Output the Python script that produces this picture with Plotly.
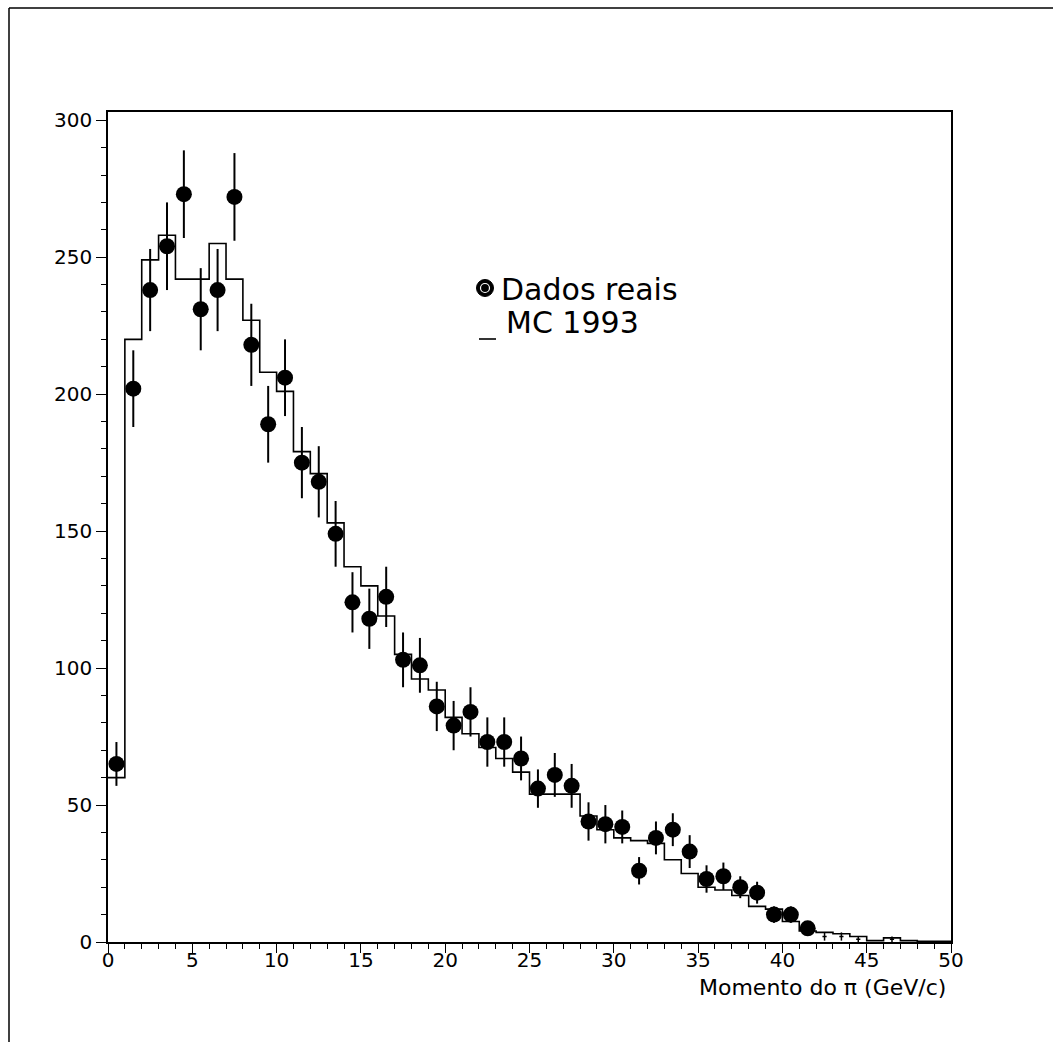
import plotly.graph_objects as go

# Measured pion momentum spectrum (1 GeV/c bins) with statistical errors
data_p = [0.5, 1.5, 2.5, 3.5, 4.5, 5.5, 6.5, 7.5, 8.5, 9.5,
          10.5, 11.5, 12.5, 13.5, 14.5, 15.5, 16.5, 17.5, 18.5, 19.5,
          20.5, 21.5, 22.5, 23.5, 24.5, 25.5, 26.5, 27.5, 28.5, 29.5,
          30.5, 31.5, 32.5, 33.5, 34.5, 35.5, 36.5, 37.5, 38.5, 39.5,
          40.5, 41.5]
data_n = [65, 202, 238, 254, 273, 231, 238, 272, 218, 189,
          206, 175, 168, 149, 124, 118, 126, 103, 101, 86,
          79, 84, 73, 73, 67, 56, 61, 57, 44, 43,
          42, 26, 38, 41, 33, 23, 24, 20, 18, 10,
          10, 5]
data_err = [8, 14, 15, 16, 16, 15, 15, 16, 15, 14,
            14, 13, 13, 12, 11, 11, 11, 10, 10, 9,
            9, 9, 9, 9, 8, 7, 8, 8, 7, 7,
            6, 5, 6, 6, 6, 5, 5, 4, 4, 3,
            3, 2]

# Tail bins with very few entries (error bars only)
tail_p = [42.5, 43.5, 44.5, 46.5]
tail_n = [2, 2, 1, 1]
tail_err = [1.5, 1.5, 1, 1]

# Monte Carlo 1993 prediction, one value per 1 GeV/c bin from 0 to 50
mc_edges = list(range(0, 51))
mc_counts = [60, 220, 249, 258, 242, 242, 255, 242, 227, 208,
             201, 179, 171, 153, 137, 130, 119, 105, 96, 92,
             82, 76, 71, 67, 62, 54, 54, 54, 46, 41,
             38, 37, 36, 30, 25, 20, 19, 17, 13, 12,
             7.5, 4, 3.5, 3, 2, 0.5, 1.5, 0.5, 0.3, 0.3]

FONT = "DejaVu Sans"

fig = go.Figure()

# MC histogram as a step line
fig.add_trace(go.Scatter(
    x=mc_edges,
    y=mc_counts + [mc_counts[-1]],
    mode="lines",
    line=dict(color="black", width=1.6, shape="hv"),
    hoverinfo="skip",
    showlegend=False,
))

# Real data points
fig.add_trace(go.Scatter(
    x=data_p, y=data_n,
    mode="markers",
    marker=dict(color="black", size=16, symbol="circle"),
    error_y=dict(type="data", array=data_err, color="black",
                 thickness=2, width=0),
    showlegend=False,
))

fig.add_trace(go.Scatter(
    x=tail_p, y=tail_n,
    mode="markers",
    marker=dict(color="black", size=3, symbol="line-ew-open",
                line=dict(width=1.5, color="black")),
    error_y=dict(type="data", array=tail_err, color="black",
                 thickness=1.5, width=0),
    showlegend=False,
))

L, R, T, B = 108, 102, 112, 100
W, H = 1053, 1042
pw, ph = W - L - R, H - T - B


def px(xp):
    return (xp - L) / pw


def py(yp):
    return (H - B - yp) / ph


shapes = [
    # page frame (top and left edges)
    dict(type="line", xref="paper", yref="paper",
         x0=px(9), x1=px(1060), y0=py(8), y1=py(8),
         line=dict(color="black", width=1.5)),
    dict(type="line", xref="paper", yref="paper",
         x0=px(9), x1=px(9), y0=py(8), y1=py(1050),
         line=dict(color="black", width=1.5)),
    # legend symbols
    dict(type="circle", xref="paper", yref="paper",
         xsizemode="pixel", ysizemode="pixel",
         xanchor=px(485), yanchor=py(288),
         x0=-8.5, x1=8.5, y0=-8.5, y1=8.5,
         fillcolor="black", line=dict(color="black", width=1)),
    dict(type="circle", xref="paper", yref="paper",
         xsizemode="pixel", ysizemode="pixel",
         xanchor=px(485), yanchor=py(288),
         x0=-4.5, x1=4.5, y0=-4.5, y1=4.5,
         line=dict(color="white", width=1.2)),
    dict(type="line", xref="paper", yref="paper",
         x0=px(479), x1=px(496), y0=py(339), y1=py(339),
         line=dict(color="black", width=1.6)),
]

annotations = [
    dict(text="Dados reais", xref="paper", yref="paper",
         x=px(499), y=py(289), xanchor="left", yanchor="middle",
         showarrow=False, font=dict(family=FONT, size=30, color="black")),
    dict(text="MC 1993", xref="paper", yref="paper",
         x=px(504), y=py(322), xanchor="left", yanchor="middle",
         showarrow=False, font=dict(family=FONT, size=30, color="black")),
    dict(text="Momento do π (GeV/c)", xref="paper", yref="paper",
         x=px(948), y=py(987), xanchor="right", yanchor="middle",
         showarrow=False, font=dict(family=FONT, size=22, color="black")),
]

fig.update_layout(
    width=W, height=H,
    margin=dict(l=L, r=R, t=T, b=B, pad=0),
    paper_bgcolor="white", plot_bgcolor="white",
    font=dict(family=FONT, size=20, color="black"),
    shapes=shapes,
    annotations=annotations,
    showlegend=False,
)

fig.update_xaxes(
    range=[0, 50],
    tickmode="linear", tick0=0, dtick=5,
    ticks="outside", ticklen=9, tickwidth=1.2, tickcolor="black",
    ticklabelstandoff=-10,
    minor=dict(tickmode="linear", tick0=0, dtick=1, ticks="outside",
               ticklen=5, tickwidth=1, tickcolor="black", showgrid=False),
    showline=True, linecolor="black", linewidth=1.5, mirror=True,
    showgrid=False, zeroline=False,
    tickfont=dict(family=FONT, size=20, color="black"),
)

fig.update_yaxes(
    range=[0, 303],
    tickmode="linear", tick0=0, dtick=50,
    ticks="outside", ticklen=10, tickwidth=1.2, tickcolor="black",
    minor=dict(tickmode="linear", tick0=0, dtick=10, ticks="outside",
               ticklen=5, tickwidth=1, tickcolor="black", showgrid=False),
    showline=True, linecolor="black", linewidth=1.5, mirror=True,
    showgrid=False, zeroline=False,
    tickfont=dict(family=FONT, size=20, color="black"),
)

fig.write_html("out.html")
